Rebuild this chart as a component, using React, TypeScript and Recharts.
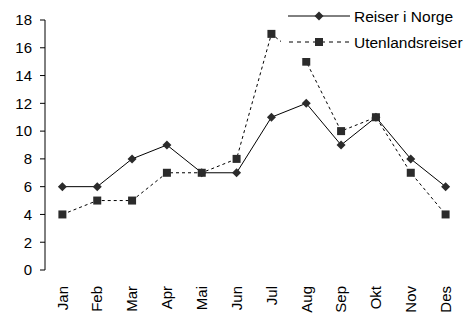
import React from 'react';
import { LineChart, Line, XAxis, YAxis, Legend } from 'recharts';

const months = ['Jan', 'Feb', 'Mar', 'Apr', 'Mai', 'Jun', 'Jul', 'Aug', 'Sep', 'Okt', 'Nov', 'Des'];
const reiserINorge = [6, 6, 8, 9, 7, 7, 11, 12, 9, 11, 8, 6];
const utenlandsreiser = [4, 5, 5, 7, 7, 8, 17, 15, 10, 11, 7, 4];
const yTicks = [0, 2, 4, 6, 8, 10, 12, 14, 16, 18];
// category boundaries for the tick marks under the axis
const bandEdges = months.map((_, i) => i).concat(months.length);

const data = months.map((m, i) => ({
  month: m,
  norge: reiserINorge[i],
  utland: utenlandsreiser[i],
}));

const FONT = 'Liberation Sans, Arial, sans-serif';
const INK = '#000';
const MARK = '#2b2b2b';
const FS = 15;
const LEGEND_FS = 15.5;

const Diamond = (props: any) => {
  const { cx, cy } = props;
  if (cx == null || cy == null) return null;
  return <polygon points={`${cx},${cy - 4.5} ${cx + 4.5},${cy} ${cx},${cy + 4.5} ${cx - 4.5},${cy}`} fill={MARK} />;
};

const Square = (props: any) => {
  const { cx, cy } = props;
  if (cx == null || cy == null) return null;
  return <rect x={cx - 4} y={cy - 4} width={8} height={8} fill={MARK} />;
};

const MonthTick = (props: any) => {
  const { x, y, payload } = props;
  return (
    <g transform={`translate(${x},${y})`}>
      <text transform="rotate(-90)" x={-9} dy="0.35em" textAnchor="end" fontSize={FS} fontFamily={FONT} fill={INK}>
        {payload.value}
      </text>
    </g>
  );
};

const LegendBox = () => (
  <div style={{ background: '#fff', width: 187, height: 56, position: 'relative' }}>
    <svg width={187} height={56} style={{ position: 'absolute', left: 0, top: 0 }}>
      <line x1={7} y1={14} x2={69} y2={14} stroke={INK} strokeWidth={1} />
      <polygon points="38,9.5 42.5,14 38,18.5 33.5,14" fill={MARK} />
      <text x={73} y={19.5} fontSize={LEGEND_FS} fontFamily={FONT} fill={INK}>Reiser i Norge</text>
      <line x1={8} y1={40} x2={69} y2={40} stroke={INK} strokeWidth={1} strokeDasharray="4 4" />
      <rect x={34} y={36} width={8} height={8} fill={MARK} />
      <text x={73} y={45.5} fontSize={LEGEND_FS} fontFamily={FONT} fill={INK}>Utenlandsreiser</text>
    </svg>
  </div>
);

export default function App() {
  return (
    <div style={{ position: 'absolute', left: 0, top: 0, background: '#fff' }}>
      <LineChart width={468} height={317} data={data} margin={{ top: 20, right: 5, left: 0, bottom: 0 }}>
        <XAxis
          xAxisId="edges"
          type="number"
          domain={[0, months.length]}
          ticks={bandEdges}
          allowDataOverflow
          height={0}
          tickSize={5}
          tick={false}
          stroke={INK}
        />
        <XAxis
          dataKey="month"
          interval={0}
          height={47}
          padding={{ left: 17.4, right: 17.4 }}
          tickLine={false}
          axisLine={false}
          tickSize={5}
          tickMargin={2}
          tick={<MonthTick />}
        />
        <YAxis
          domain={[0, 18]}
          ticks={yTicks}
          width={45}
          tickSize={5}
          tickMargin={8}
          stroke={INK}
          tick={{ fill: INK, fontSize: FS, fontFamily: FONT }}
        />
        <Legend
          layout="vertical"
          align="center"
          verticalAlign="middle"
          content={<LegendBox />}
          wrapperStyle={{ top: 2, left: 281, width: 187, height: 56 }}
        />
        <Line
          dataKey="norge"
          name="Reiser i Norge"
          stroke={INK}
          strokeWidth={1}
          dot={<Diamond />}
          activeDot={false}
          isAnimationActive={false}
        />
        <Line
          dataKey="utland"
          name="Utenlandsreiser"
          stroke={INK}
          strokeWidth={1}
          strokeDasharray="3 3"
          dot={<Square />}
          activeDot={false}
          isAnimationActive={false}
        />
      </LineChart>
    </div>
  );
}
